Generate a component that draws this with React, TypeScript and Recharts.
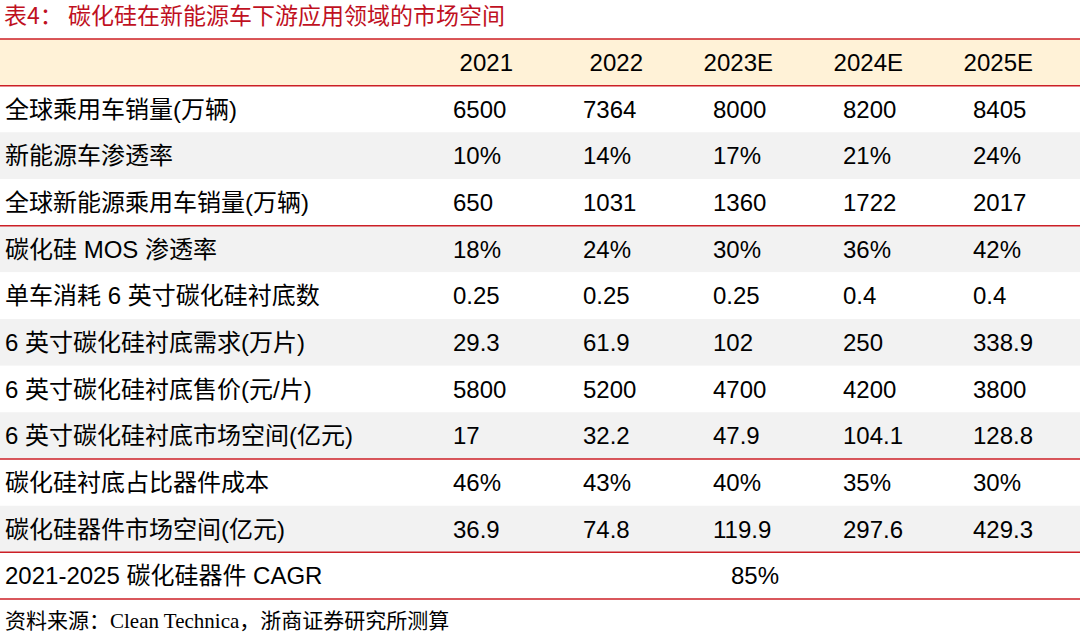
import {
  ScatterChart,
  Scatter,
  XAxis,
  YAxis,
  ReferenceArea,
  ReferenceLine,
} from "recharts"

// column headers
const years = ["2021", "2022", "2023E", "2024E", "2025E"]
const headerKey = "年份"

// row values
const globalPassengerCars = [6500, 7364, 8000, 8200, 8405]
const nevPenetration = [10, 14, 17, 21, 24]
const globalNevSales = [650, 1031, 1360, 1722, 2017]
const sicMosPenetration = [18, 24, 30, 36, 42]
const wafersPerCar = [0.25, 0.25, 0.25, 0.4, 0.4]
const waferDemand = [29.3, 61.9, 102, 250, 338.9]
const waferPrice = [5800, 5200, 4700, 4200, 3800]
const waferMarket = [17, 32.2, 47.9, 104.1, 128.8]
const waferCostShare = [46, 43, 40, 35, 30]
const deviceMarket = [36.9, 74.8, 119.9, 297.6, 429.3]
const deviceCagr = 85
const cagrLabel = "2021-2025 碳化硅器件 CAGR"

const rows = [
  { label: "全球乘用车销量(万辆)", values: globalPassengerCars, pct: false },
  { label: "新能源车渗透率", values: nevPenetration, pct: true },
  { label: "全球新能源乘用车销量(万辆)", values: globalNevSales, pct: false },
  { label: "碳化硅 MOS 渗透率", values: sicMosPenetration, pct: true },
  { label: "单车消耗 6 英寸碳化硅衬底数", values: wafersPerCar, pct: false },
  { label: "6 英寸碳化硅衬底需求(万片)", values: waferDemand, pct: false },
  { label: "6 英寸碳化硅衬底售价(元/片)", values: waferPrice, pct: false },
  { label: "6 英寸碳化硅衬底市场空间(亿元)", values: waferMarket, pct: false },
  { label: "碳化硅衬底占比器件成本", values: waferCostShare, pct: true },
  { label: "碳化硅器件市场空间(亿元)", values: deviceMarket, pct: false },
]

const allRows = [headerKey, ...rows.map((r) => r.label), cagrLabel]

// value cells sit on the year axis
const cells = [
  ...years.map((y) => ({ col: y, row: headerKey, text: y, kind: "head" })),
  ...rows.flatMap((r) =>
    r.values.map((v, i) => ({
      col: years[i],
      row: r.label,
      text: r.pct ? `${v}%` : String(v),
      kind: "data",
    }))
  ),
  { col: years[2], row: cagrLabel, text: `${deviceCagr}%`, kind: "merged" },
]

// the label column is the left edge (0) of the full-width axis
const labelCells = allRows.map((r) => ({
  edge: 0,
  row: r,
  text: r === headerKey ? "" : r,
  kind: "label",
}))

const W = 1080
const H = 638
const LABEL_W = 430
const FONT = '"Liberation Sans", Arial, "Noto Sans CJK SC", sans-serif'
const RED = "#cc1f26"

const CellText = (props: any) => {
  const { cx, cy, payload } = props
  if (cx == null || cy == null) return <g />
  let x = cx - 42
  let anchor: "start" | "middle" | "end" = "start"
  if (payload.kind === "head") {
    x = cx + 18
    anchor = "end"
  } else if (payload.kind === "merged") {
    x = cx
    anchor = "middle"
  } else if (payload.kind === "label") {
    x = cx + 5
  }
  return (
    <text x={x} y={cy} dy="0.36em" textAnchor={anchor} fontSize={24} fontFamily={FONT} fill="#000">
      {payload.text}
    </text>
  )
}

export default function App() {
  return (
    <div style={{ position: "absolute", left: 0, top: 0, width: W, height: H, background: "#fff" }}>
      <div
        style={{
          position: "absolute",
          left: 4,
          top: 0,
          fontSize: 23,
          lineHeight: "28px",
          color: "#c0111f",
          fontFamily: '"Noto Sans CJK SC", sans-serif',
          whiteSpace: "nowrap",
        }}
      >
        表4： 碳化硅在新能源车下游应用领域的市场空间
      </div>
      <ScatterChart width={W} height={H} margin={{ top: 39, right: 0, bottom: 39, left: 0 }}>
        <XAxis xAxisId="full" dataKey="edge" type="number" domain={[0, 1]} allowDataOverflow hide />
        <XAxis
          xAxisId="cols"
          dataKey="col"
          type="category"
          allowDuplicatedCategory={false}
          padding={{ left: LABEL_W, right: 0 }}
          hide
        />
        <YAxis
          yAxisId="rows"
          dataKey="row"
          type="category"
          allowDuplicatedCategory={false}
          reversed
          hide
        />
        {allRows.map((r, i) => (
          <ReferenceArea
            key={r}
            xAxisId="full"
            yAxisId="rows"
            x1={0}
            x2={1}
            y1={r}
            y2={r}
            ifOverflow="visible"
            fill={i === 0 ? "#fff2d7" : i % 2 === 0 ? "#f2f2f2" : "#ffffff"}
            fillOpacity={1}
            stroke="none"
          />
        ))}
        {[headerKey, rows[0].label, rows[3].label, rows[8].label, cagrLabel].map((r) => (
          <ReferenceLine
            key={"l" + r}
            xAxisId="full"
            yAxisId="rows"
            y={r}
            position="start"
            ifOverflow="visible"
            stroke={RED}
            strokeWidth={1.5}
          />
        ))}
        <ReferenceLine
          xAxisId="full"
          yAxisId="rows"
          y={cagrLabel}
          position="end"
          ifOverflow="visible"
          stroke={RED}
          strokeWidth={1.5}
        />
        <Scatter
          xAxisId="full"
          yAxisId="rows"
          data={labelCells}
          shape={<CellText />}
          isAnimationActive={false}
        />
        <Scatter
          xAxisId="cols"
          yAxisId="rows"
          data={cells}
          shape={<CellText />}
          isAnimationActive={false}
        />
      </ScatterChart>
      <div
        style={{
          position: "absolute",
          left: 5,
          top: 609,
          fontSize: 21,
          lineHeight: "24px",
          color: "#000",
          fontFamily: '"Liberation Serif", "Noto Sans CJK SC", serif',
          whiteSpace: "nowrap",
        }}
      >
        资料来源：Clean Technica，浙商证券研究所测算
      </div>
    </div>
  )
}
